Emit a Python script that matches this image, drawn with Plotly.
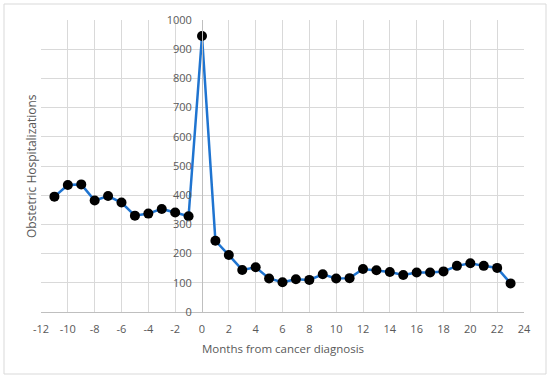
import plotly.graph_objects as go

months = list(range(-11, 24))
hospitalizations = [395, 435, 437, 382, 397, 375, 330, 337, 353, 341, 328,
                    945, 244, 195, 144, 153, 115, 102, 112, 110, 129, 115, 116,
                    147, 143, 137, 127, 135, 135, 139, 158, 167, 158, 151, 98]

x_ticks = list(range(-12, 25, 2))
x_tick_labels = [str(v) for v in x_ticks]
y_ticks = list(range(0, 1001, 100))

W, H = 550, 378
L, R, T, B = 41, 26, 20, 66
pw, ph = W - L - R, H - T - B
GRAY_TXT = "#595959"

fig = go.Figure()
fig.add_trace(go.Scatter(
    x=months, y=hospitalizations, mode="lines+markers",
    line=dict(color="#1f74d0", width=2.5),
    marker=dict(color="black", size=10),
    showlegend=False, cliponaxis=False,
))

font = dict(family="Open Sans, Liberation Sans, sans-serif", color=GRAY_TXT, size=11)

fig.update_layout(
    template="none",
    width=W, height=H,
    margin=dict(l=L, r=R, t=T, b=B, autoexpand=False),
    paper_bgcolor="white", plot_bgcolor="white",
    font=font,
    xaxis=dict(range=[-12, 24], tickvals=x_ticks, ticktext=x_tick_labels,
               showgrid=True, gridcolor="#d9d9d9",
               gridwidth=1, zeroline=False, showline=True, linecolor="#bfbfbf",
               linewidth=1, ticks="", tickfont=dict(size=11, color=GRAY_TXT),
               ticklabelstandoff=7),
    yaxis=dict(range=[0, 1000], tickvals=y_ticks, showgrid=True, gridcolor="#d9d9d9",
               gridwidth=1, zeroline=False, showline=True, linecolor="#bfbfbf",
               linewidth=1, anchor="free", position=12 / 36, ticks="",
               tickfont=dict(size=11, color=GRAY_TXT), ticklabelstandoff=8),
    annotations=[
        dict(text="Obstetric Hospitalizations", xref="paper", yref="paper",
             x=(31 - L) / pw, y=0.5, xanchor="center", yanchor="middle",
             textangle=-90, showarrow=False,
             font=dict(size=12, color=GRAY_TXT)),
        dict(text="Months from cancer diagnosis", xref="paper", yref="paper",
             x=0.5, y=(H - 348 - B) / ph, xanchor="center", yanchor="middle",
             showarrow=False,
             font=dict(size=11.5, color=GRAY_TXT)),
    ],
    shapes=[dict(type="rect", xref="paper", yref="paper",
                 x0=(4 - L) / pw, x1=(546 - L) / pw,
                 y0=(4 - B) / ph, y1=(374 - B) / ph,
                 line=dict(color="#d9d9d9", width=1))],
)

fig.write_html("out.html", config={"displayModeBar": False},
               post_script="document.body.style.margin='0';")
